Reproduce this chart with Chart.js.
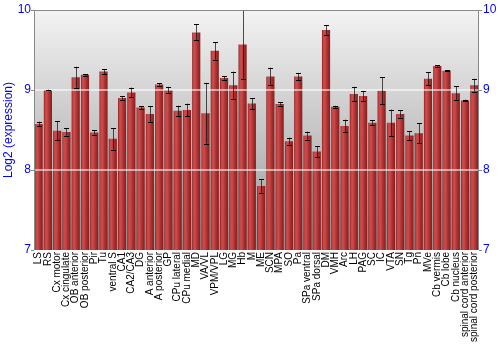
<!DOCTYPE html>
<html>
<head>
<meta charset="utf-8">
<script src="https://cdn.jsdelivr.net/npm/chart.js@4/dist/chart.umd.min.js"></script>
<style>
html,body{margin:0;padding:0;background:#fff;}
#wrap{width:500px;height:350px;position:relative;}
</style>
</head>
<body>
<div id="wrap"><canvas id="c" width="500" height="350"></canvas></div>
<script>
const categories = ["LS","RS","Cx motor","Cx cingulate","OB anterior","OB posterior","Pir","Tu","ventral S","CA1","CA2/CA3","DG","A anterior","A posterior","GP","CPu lateral","CPu medial","MD","VA/VL","VPM/VPL","LG","MG","Hb","M","ME","SCN","MPA","SO","Pa","SPa ventral","SPa dorsal","DM","VMH","Arc","LH","PAG","SC","IC","VTA","SN","Tg","Pn","MVe","Cb vermis","Cb lobe","Cb nucleus","spinal cord anterior","spinal cord posterior"];
const expression = [8.575,9.0,8.49,8.475,9.16,9.19,8.47,9.23,8.39,8.9,8.97,8.78,8.70,9.07,9.0,8.74,8.75,9.72,8.71,9.49,9.15,9.06,9.57,8.83,7.80,9.17,8.825,8.36,9.17,8.43,8.23,9.75,8.79,8.55,8.95,8.925,8.59,8.99,8.59,8.70,8.43,8.46,9.14,9.30,9.24,8.96,8.87,9.06];
const errors = [0.03,0.005,0.12,0.045,0.13,0.01,0.03,0.03,0.135,0.02,0.06,0.017,0.1,0.015,0.04,0.065,0.08,0.1,0.38,0.11,0.02,0.17,0.43,0.07,0.085,0.11,0.02,0.045,0.045,0.05,0.07,0.06,0.013,0.08,0.09,0.06,0.033,0.17,0.165,0.045,0.055,0.125,0.08,0.01,0.005,0.09,0.01,0.08];
const yTicks = [7,8,9,10];

const FONT = '"Liberation Sans", Arial, sans-serif';

const bgPlugin = {
  id: 'bgPlugin',
  beforeDraw(chart) {
    const {ctx, chartArea: a} = chart;
    const g = ctx.createLinearGradient(0, a.top, 0, a.bottom);
    g.addColorStop(0, '#f3f3f3');
    g.addColorStop(1, '#989898');
    ctx.save();
    ctx.fillStyle = g;
    ctx.fillRect(a.left, a.top, a.right - a.left, a.bottom - a.top);
    ctx.restore();
  },
  afterDatasetsDraw(chart) {
    const {ctx, chartArea: a, scales} = chart;
    const y = scales.y;
    ctx.save();
    ctx.strokeStyle = 'rgba(255,255,255,0.55)';
    ctx.lineWidth = 2;
    [8, 9].forEach(v => {
      const py = Math.round(y.getPixelForValue(v));
      ctx.beginPath();
      ctx.moveTo(a.left, py);
      ctx.lineTo(a.right, py);
      ctx.stroke();
    });
    const meta = chart.getDatasetMeta(0);
    meta.data.forEach((bar, i) => {
      const x = Math.round(bar.x) + 0.5;
      const top = Math.max(y.getPixelForValue(expression[i] + errors[i]), a.top);
      const bot = y.getPixelForValue(expression[i] - errors[i]);
      ctx.strokeStyle = 'rgba(20,20,20,0.75)';
      ctx.lineWidth = 1;
      ctx.beginPath();
      ctx.moveTo(x, top);
      ctx.lineTo(x, bot);
      ctx.stroke();
      ctx.strokeStyle = '#000';
      ctx.beginPath();
      ctx.moveTo(x - 2.5, Math.round(top) + 0.5);
      ctx.lineTo(x + 2.5, Math.round(top) + 0.5);
      ctx.moveTo(x - 2.5, Math.round(bot) + 0.5);
      ctx.lineTo(x + 2.5, Math.round(bot) + 0.5);
      ctx.stroke();
    });
    ctx.strokeStyle = '#888';
    ctx.lineWidth = 1;
    ctx.beginPath();
    ctx.moveTo(a.left + 0.5, a.bottom);
    ctx.lineTo(a.left + 0.5, a.top + 0.5);
    ctx.lineTo(a.right - 0.5, a.top + 0.5);
    ctx.lineTo(a.right - 0.5, a.bottom);
    ctx.stroke();
    ctx.restore();
  }
};

function barFill(context) {
  const chart = context.chart;
  const xs = chart.scales.x;
  if (!xs || !chart.chartArea) return '#b83838';
  const cx = xs.getPixelForValue(context.dataIndex);
  const slot = (chart.chartArea.right - chart.chartArea.left) / categories.length;
  const hw = slot * 0.45;
  const g = chart.ctx.createLinearGradient(cx - hw, 0, cx + hw, 0);
  g.addColorStop(0, '#7a1a1a');
  g.addColorStop(0.15, '#c44444');
  g.addColorStop(0.35, '#cc4c4c');
  g.addColorStop(0.6, '#b23434');
  g.addColorStop(1, '#821d1d');
  return g;
}

new Chart(document.getElementById('c'), {
  type: 'bar',
  data: {
    labels: categories,
    datasets: [{
      data: expression,
      backgroundColor: barFill,
      borderWidth: 0,
      barPercentage: 0.88,
      categoryPercentage: 1.0
    }]
  },
  options: {
    responsive: false,
    animation: false,
    layout: { padding: { top: 10, bottom: 0, left: 0, right: 0 } },
    plugins: { legend: { display: false }, tooltip: { enabled: false } },
    scales: {
      x: {
        grid: { display: false, drawTicks: false },
        border: { display: false },
        ticks: {
          autoSkip: false, maxRotation: 90, minRotation: 90, padding: 2,
          color: '#000', font: { family: FONT, size: 10 }
        },
        afterFit(s) { s.height = 100; }
      },
      y: {
        position: 'left', min: 7, max: 10,
        afterBuildTicks(s) { s.ticks = yTicks.map(v => ({ value: v })); },
        grid: { drawOnChartArea: false, tickLength: 3, color: '#888' },
        border: { display: false },
        ticks: { color: '#0000ff', padding: 0, font: { family: FONT, size: 12 } },
        title: { display: true, text: 'Log2 (expression)', color: '#0000ff', padding: { top: 1, bottom: 0 }, font: { family: FONT, size: 12 } },
        afterFit(s) { s.width = 34; }
      },
      y2: {
        position: 'right', min: 7, max: 10,
        afterBuildTicks(s) { s.ticks = yTicks.map(v => ({ value: v })); },
        grid: { drawOnChartArea: false, tickLength: 3, color: '#888' },
        border: { display: false },
        ticks: { color: '#0000ff', padding: 1, font: { family: FONT, size: 12 } },
        afterFit(s) { s.width = 21; }
      }
    }
  },
  plugins: [bgPlugin]
});
</script>
</body>
</html>
